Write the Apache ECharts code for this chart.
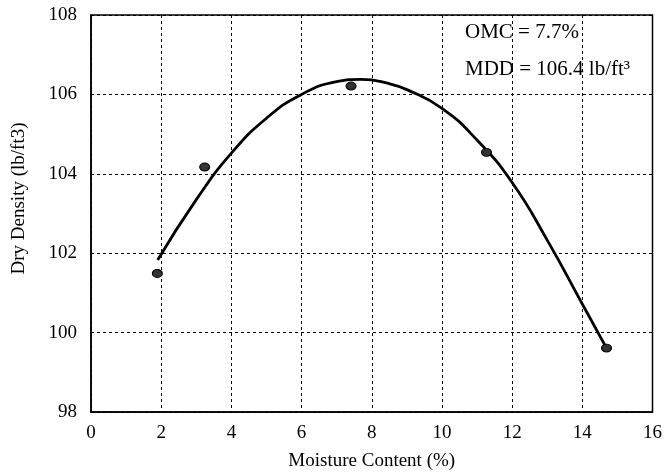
<!DOCTYPE html>
<html>
<head>
<meta charset="utf-8">
<script src="https://cdn.jsdelivr.net/npm/echarts@6/dist/echarts.min.js"></script>
<style>
  html, body { margin: 0; padding: 0; background: #fff; }
  #chart { width: 665px; height: 476px; }
</style>
</head>
<body>
<div id="chart"></div>
<script>
// measured points
const moisture = [1.89, 3.24, 7.41, 11.27, 14.69];
const density = [101.49, 104.17, 106.21, 104.54, 99.61];
// fitted curve
const curveX = [1.90, 3, 4, 5, 6, 7, 7.7, 8.5, 9, 10, 11, 12, 13, 14, 14.69];
const curveY = [101.83, 103.35, 104.52, 105.40, 106.00, 106.32, 106.38, 106.27, 106.12, 105.65, 104.85, 103.78, 102.33, 100.72, 99.61];
const xTicks = [0, 2, 4, 6, 8, 10, 12, 14, 16];
const yTicks = [98, 100, 102, 104, 106, 108];

const font = 'Liberation Serif, Times New Roman, serif';

let myChart = echarts.init(document.getElementById('chart'));
let option = {
  animation: false,
  grid: {
    left: 91,
    right: 12,
    top: 15,
    bottom: 64,
    show: true,
    borderColor: '#000',
    borderWidth: 1.5
  },
  xAxis: {
    type: 'value',
    min: xTicks[0],
    max: xTicks[xTicks.length - 1],
    interval: 2,
    name: 'Moisture Content (%)',
    nameLocation: 'middle',
    nameGap: 40,
    nameTextStyle: { color: '#000', fontFamily: font, fontSize: 19 },
    axisLine: { show: true, lineStyle: { color: '#000', width: 1.5 } },
    axisTick: { show: false },
    axisLabel: { color: '#000', fontFamily: font, fontSize: 19, margin: 12 },
    //网格样式
    splitLine: {
      show: true,
      lineStyle: { color: '#000', width: 1, type: [3, 3] }
    }
  },
  yAxis: {
    type: 'value',
    min: yTicks[0],
    max: yTicks[yTicks.length - 1],
    interval: 2,
    name: 'Dry Density (lb/ft3)',
    nameLocation: 'middle',
    nameGap: 62,
    nameTextStyle: { color: '#000', fontFamily: font, fontSize: 19, padding: [0, 0, 0, 30] },
    axisLine: { show: true, lineStyle: { color: '#000', width: 1.5 } },
    axisTick: { show: false },
    axisLabel: { color: '#000', fontFamily: font, fontSize: 19, margin: 14 },
    splitLine: {
      show: true,
      lineStyle: { color: '#000', width: 1, type: [3, 3] }
    }
  },
  graphic: [
    {
      type: 'text',
      left: 465,
      top: 22,
      style: { text: 'OMC = 7.7%', fill: '#000', font: '21px ' + font }
    },
    {
      type: 'text',
      left: 465,
      top: 59,
      style: { text: 'MDD = 106.4 lb/ft³', fill: '#000', font: '21px ' + font }
    }
  ],
  series: [
    {
      type: 'line',
      data: curveX.map((x, i) => [x, curveY[i]]),
      smooth: true,
      showSymbol: false,
      lineStyle: { color: '#000', width: 2.8 },
      z: 3
    },
    {
      type: 'scatter',
      data: moisture.map((x, i) => [x, density[i]]),
      symbol: 'circle',
      symbolSize: [10, 8],
      itemStyle: { color: '#333', borderColor: '#000', borderWidth: 1, opacity: 1 },
      z: 4
    }
  ]
};
myChart.setOption(option);
</script>
</body>
</html>
